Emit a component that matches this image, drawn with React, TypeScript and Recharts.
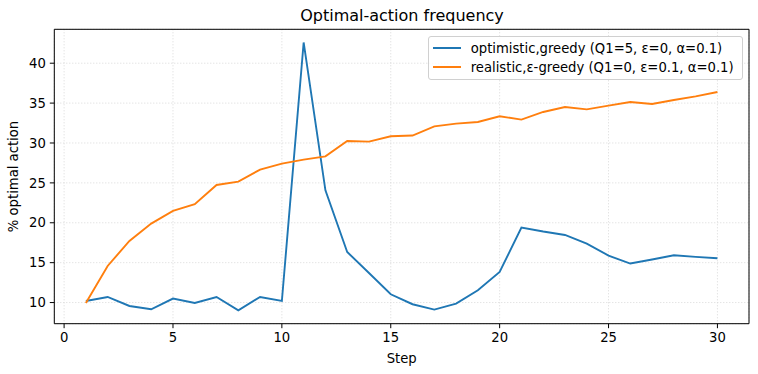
import { LineChart, Line, XAxis, YAxis, CartesianGrid, ReferenceLine } from "recharts";

const steps = [1, 2, 3, 4, 5, 6, 7, 8, 9, 10, 11, 12, 13, 14, 15, 16, 17, 18, 19, 20, 21, 22, 23, 24, 25, 26, 27, 28, 29, 30];

const optimisticGreedy = [
  10.2, 10.7, 9.57, 9.16, 10.5, 9.95, 10.7, 9.03, 10.7, 10.2,
  42.6, 24.07, 16.34, 13.7, 11.04, 9.79, 9.12, 9.87, 11.54, 13.83,
  19.4, 18.9, 18.47, 17.39, 15.89, 14.89, 15.39, 15.93, 15.72, 15.55,
];

const realisticEpsGreedy = [
  9.95, 14.59, 17.72, 19.9, 21.48, 22.32, 24.74, 25.16, 26.67, 27.42,
  27.92, 28.33, 30.25, 30.17, 30.84, 30.93, 32.09, 32.43, 32.63, 33.35,
  32.93, 33.89, 34.51, 34.22, 34.69, 35.14, 34.89, 35.39, 35.85, 36.39,
];

const xTicks = [0, 5, 10, 15, 20, 25, 30];
const yTicks = [10, 15, 20, 25, 30, 35, 40];
const X_DOMAIN = [-0.45, 31.45];
const Y_DOMAIN = [7.35, 44.25];

const seriesNames = [
  "optimistic,greedy (Q1=5, ε=0, α=0.1)",
  "realistic,ε-greedy (Q1=0, ε=0.1, α=0.1)",
];
const COLORS = ["#1f77b4", "#ff7f0e"];

const data = steps.map((s, i) => ({
  step: s,
  opt: optimisticGreedy[i],
  real: realisticEpsGreedy[i],
}));

const FONT = "'DejaVu Sans', sans-serif";
const FS = 13.2;
const tickStyle = { fontSize: FS, fill: "#000", fontFamily: FONT };

function LegendBox() {
  return (
    <div
      style={{
        position: "absolute",
        left: 427.7,
        top: 36,
        width: 315,
        height: 43.5,
        border: "1px solid #d0d0d0",
        borderRadius: 3,
        background: "rgba(255,255,255,0.8)",
        padding: "2px 0 2px 4px",
        fontFamily: FONT,
        fontSize: FS,
        color: "#000",
        boxSizing: "border-box",
        whiteSpace: "nowrap",
      }}
    >
      {seriesNames.map((n, i) => (
        <div key={n} style={{ display: "flex", alignItems: "center", height: 18.7 }}>
          <span style={{ display: "inline-block", width: 28, height: 2, background: COLORS[i], marginRight: 10, flexShrink: 0 }} />
          <span>{n}</span>
        </div>
      ))}
    </div>
  );
}

export default function App() {
  return (
    <div style={{ position: "absolute", left: 0, top: 0, width: 758, height: 374, background: "#fff" }}>
      <div
        style={{
          position: "absolute",
          left: 55,
          width: 694,
          top: 6.4,
          lineHeight: 1.2,
          textAlign: "center",
          fontFamily: FONT,
          fontSize: 16,
          color: "#000",
        }}
      >
        Optimal-action frequency
      </div>
      <LineChart width={758} height={374} data={data} margin={{ top: 29.3, right: 9, left: 0, bottom: 20.3 }}>
        <CartesianGrid stroke="#d8d8d8" strokeDasharray="1 2" />
        <XAxis
          dataKey="step"
          type="number"
          domain={X_DOMAIN}
          ticks={xTicks}
          allowDataOverflow
          height={30}
          tickSize={4.5}
          tickMargin={4}
          stroke="#000"
          tick={tickStyle}
          label={(props: any) => {
            const vb = props.viewBox;
            return (
              <text x={vb.x + vb.width / 2} y={362.5} textAnchor="middle" fontSize={FS} fontFamily={FONT} fill="#000">
                Step
              </text>
            );
          }}
        />
        <YAxis
          type="number"
          domain={Y_DOMAIN}
          ticks={yTicks}
          allowDataOverflow
          width={54.3}
          tickSize={4.5}
          tickMargin={4}
          stroke="#000"
          tick={tickStyle}
          label={(props: any) => {
            const vb = props.viewBox;
            const cy = vb.y + vb.height / 2;
            return (
              <text
                x={17.5}
                y={cy}
                transform={`rotate(-90 17.5 ${cy})`}
                textAnchor="middle"
                fontSize={FS}
                fontFamily={FONT}
                fill="#000"
              >
                % optimal action
              </text>
            );
          }}
        />
        <ReferenceLine y={Y_DOMAIN[1]} stroke="#000" strokeWidth={1} />
        <ReferenceLine x={X_DOMAIN[1]} stroke="#000" strokeWidth={1} />
        <Line
          dataKey="opt"
          name={seriesNames[0]}
          stroke={COLORS[0]}
          strokeWidth={1.9}
          dot={false}
          isAnimationActive={false}
        />
        <Line
          dataKey="real"
          name={seriesNames[1]}
          stroke={COLORS[1]}
          strokeWidth={1.9}
          dot={false}
          isAnimationActive={false}
        />
      </LineChart>
      <LegendBox />
    </div>
  );
}
